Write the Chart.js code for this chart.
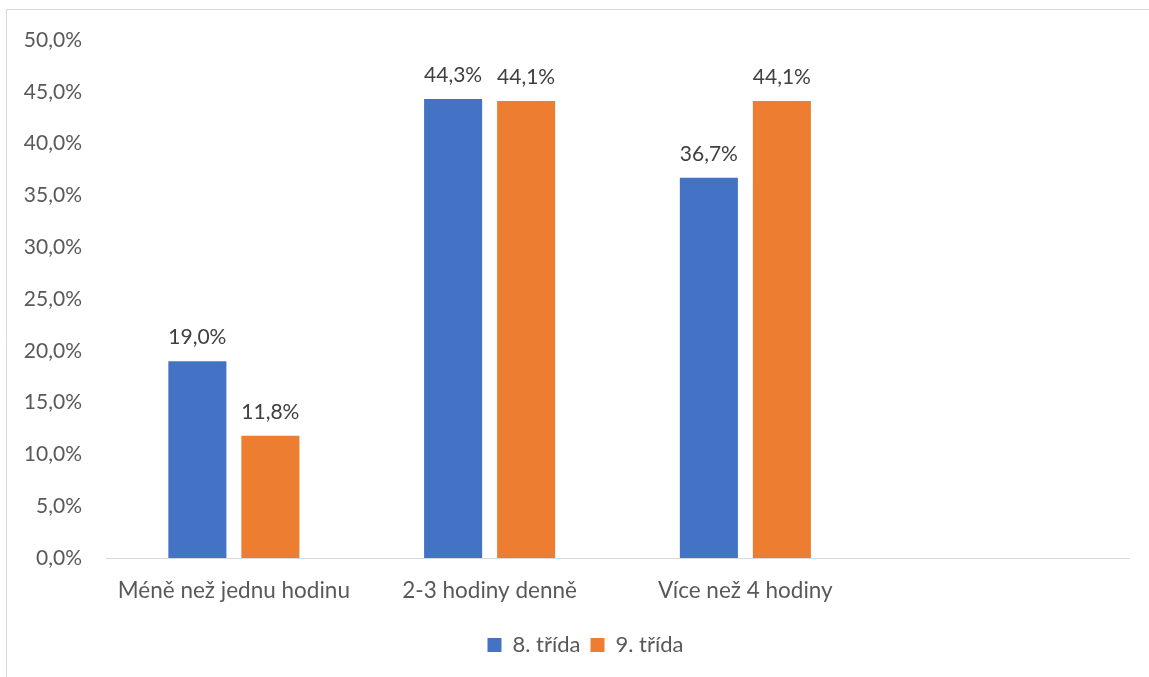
<!DOCTYPE html>
<html>
<head>
<meta charset="utf-8">
<script src="https://cdn.jsdelivr.net/npm/chart.js@4/dist/chart.umd.min.js"></script>
<style>
  html, body { margin: 0; padding: 0; background: #fff; }
  #wrap { position: absolute; left: 0; top: 0; width: 1149px; height: 677px; }
</style>
</head>
<body>
<div id="wrap"><canvas id="c" width="1149" height="677"></canvas></div>
<script>
const categories = ["Méně než jednu hodinu", "2-3 hodiny denně", "Více než 4 hodiny", ""];
const seriesNames = ["8. třída", "9. třída"];
const grade8 = [19.0, 44.3, 36.7, null];
const grade9 = [11.8, 44.1, 44.1, null];
const yTicks = { min: 0, max: 50, step: 5 };

const FONT = "Lato";
const TXT = "#595959";

function fmt(v) { return v.toFixed(1).replace(".", ",") + "%"; }

const borderPlugin = {
  id: "outerBorder",
  beforeDraw(chart) {
    const ctx = chart.ctx;
    ctx.save();
    ctx.fillStyle = "#fff";
    ctx.fillRect(0, 0, chart.width, chart.height);
    ctx.strokeStyle = "#D9D9D9";
    ctx.lineWidth = 1;
    ctx.beginPath();
    ctx.moveTo(6.5, chart.height);
    ctx.lineTo(6.5, 9.5);
    ctx.lineTo(chart.width, 9.5);
    ctx.stroke();
    ctx.restore();
  }
};

const legendShift = {
  id: "legendShift",
  afterLayout(chart) {
    if (chart.legend) {
      chart.legend.left += 21;
      chart.legend.right += 21;
    }
  }
};

const labelPlugin = {
  id: "valueLabels",
  afterDatasetsDraw(chart) {
    const ctx = chart.ctx;
    ctx.save();
    ctx.font = "21px " + FONT;
    ctx.fillStyle = "#404040";
    ctx.textAlign = "center";
    ctx.textBaseline = "alphabetic";
    chart.data.datasets.forEach((ds, di) => {
      const meta = chart.getDatasetMeta(di);
      meta.data.forEach((bar, i) => {
        const v = ds.data[i];
        if (v === null || v === undefined) return;
        ctx.fillText(fmt(v), bar.x, bar.y - 17);
      });
    });
    ctx.restore();
  }
};

new Chart(document.getElementById("c"), {
  type: "bar",
  data: {
    labels: categories,
    datasets: [
      { label: seriesNames[0], data: grade8, backgroundColor: "#4472C4", categoryPercentage: 0.571, barPercentage: 0.795 },
      { label: seriesNames[1], data: grade9, backgroundColor: "#ED7D31", categoryPercentage: 0.571, barPercentage: 0.795 }
    ]
  },
  options: {
    responsive: false,
    animation: false,
    devicePixelRatio: 1,
    layout: { padding: { left: 0, top: 40, right: 20, bottom: 11 } },
    plugins: {
      tooltip: { enabled: false },
      legend: {
        position: "bottom",
        labels: {
          font: { family: FONT, size: 22 },
          color: TXT,
          boxWidth: 14,
          boxHeight: 14,
          padding: 10
        }
      }
    },
    scales: {
      x: {
        grid: { display: false, drawTicks: false },
        border: { display: true, color: "#D9D9D9", width: 1 },
        ticks: { font: { family: FONT, size: 22.5 }, color: TXT, padding: 19, maxRotation: 0, autoSkip: false },
        afterFit(scale) { scale.height = 66; }
      },
      y: {
        min: yTicks.min,
        max: yTicks.max,
        grid: { display: false, drawTicks: false },
        border: { display: false },
        ticks: {
          stepSize: yTicks.step,
          font: { family: FONT, size: 21 },
          color: TXT,
          padding: 24,
          callback: (v) => fmt(v)
        },
        afterFit(scale) { scale.width = 106; }
      }
    }
  },
  plugins: [borderPlugin, legendShift, labelPlugin]
});
</script>
</body>
</html>
